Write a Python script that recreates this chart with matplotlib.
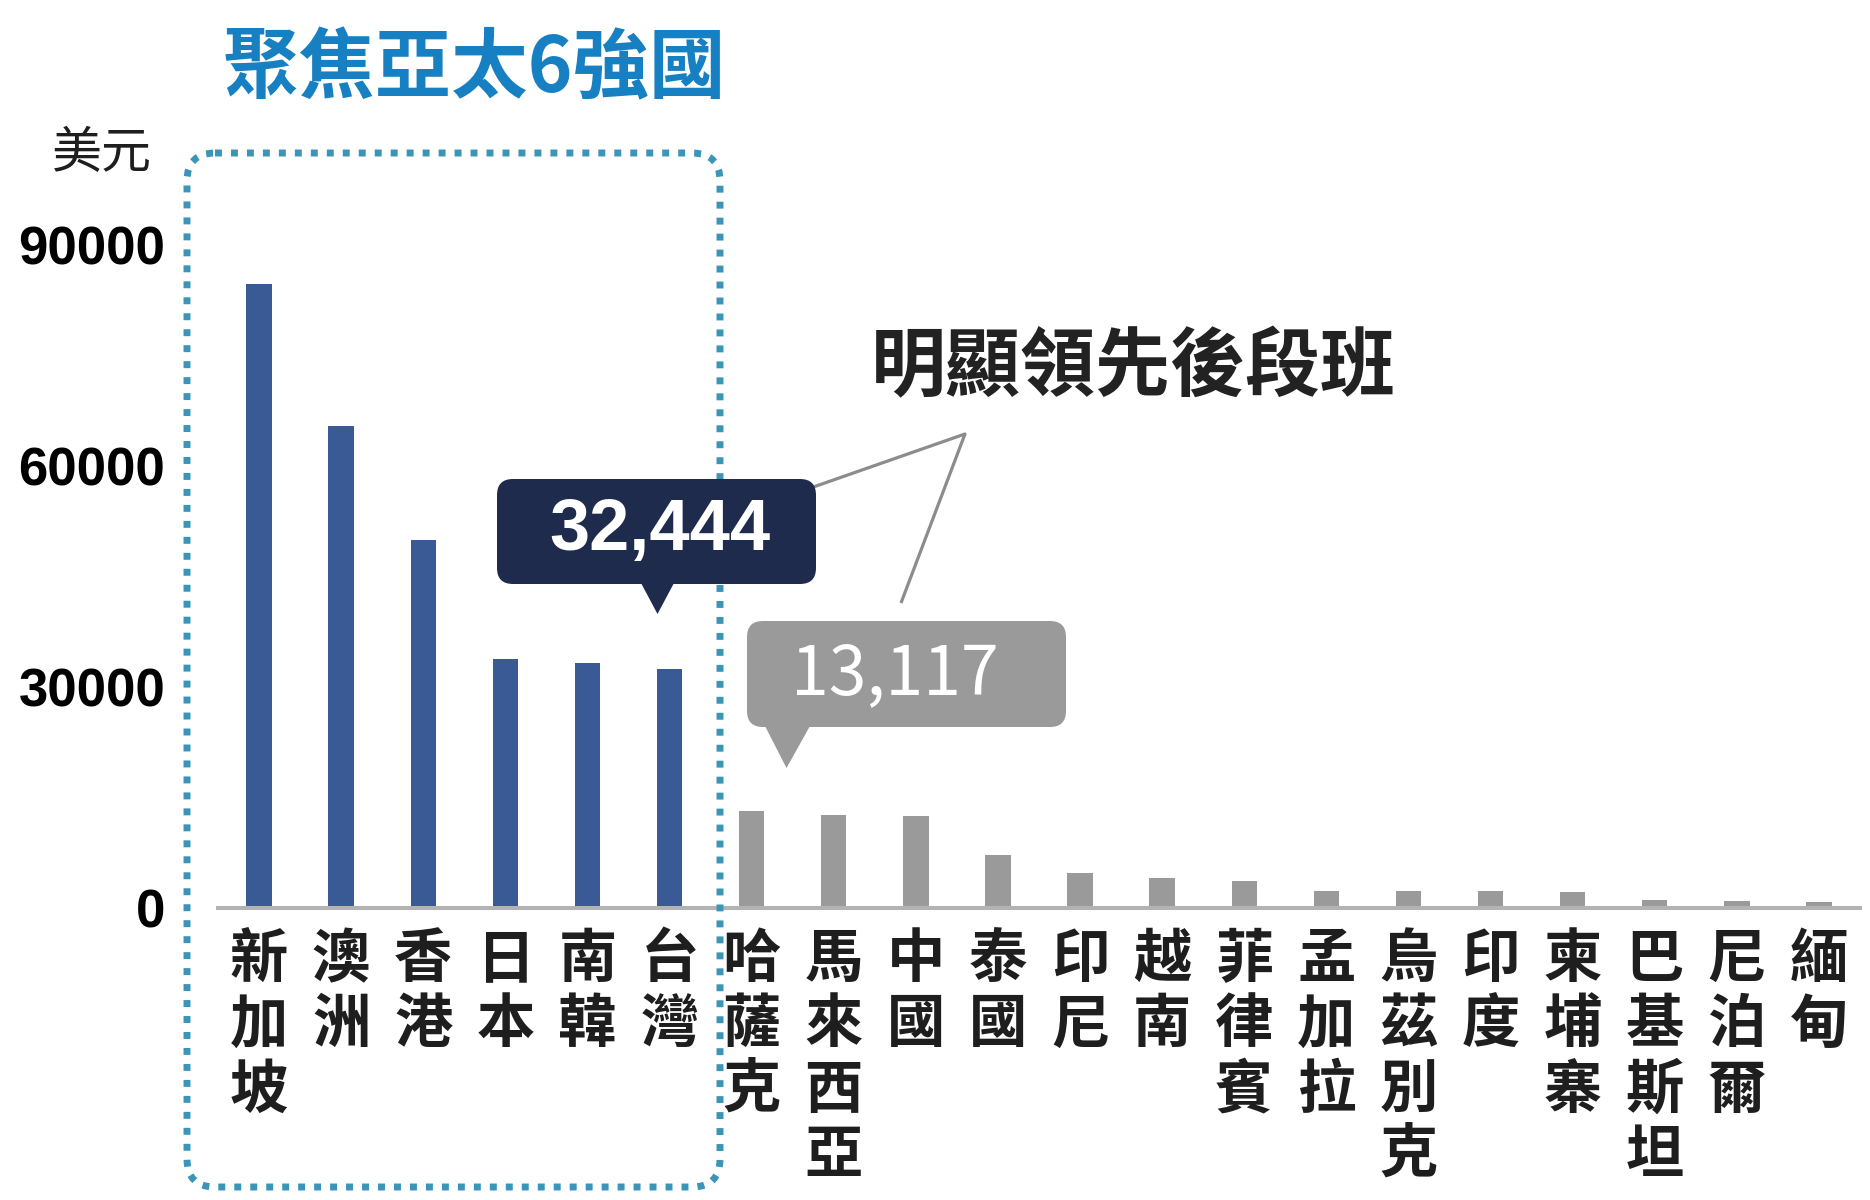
import matplotlib
matplotlib.use("Agg")
import matplotlib.pyplot as plt
from matplotlib.patches import FancyBboxPatch, Polygon

# ---------------- data ----------------
countries = ["新加坡", "澳洲", "香港", "日本", "南韓", "台灣",
             "哈薩克", "馬來西亞", "中國", "泰國", "印尼", "越南", "菲律賓",
             "孟加拉", "烏茲別克", "印度", "柬埔寨", "巴基斯坦", "尼泊爾", "緬甸"]
gdp_per_capita = [84700, 65400, 50000, 33750, 33200, 32444,
                  13117, 12600, 12500, 7150, 4750, 4100, 3650,
                  2350, 2250, 2250, 2200, 1150, 1000, 850]
top6_count = 6
yticks = [0, 30000, 60000, 90000]
ytick_labels = ["0", "30000", "60000", "90000"]
title = "聚焦亞太6強國"
unit_label = "美元"
note_text = "明顯領先後段班"
taiwan_label = "32,444"
kazakh_label = "13,117"

# ---------------- style ----------------
W, H = 1870, 1200
CJK = ["Noto Sans CJK TC", "DejaVu Sans"]
NUM = ["Liberation Sans", "DejaVu Sans"]
BLUE = "#3a5a95"
GRAY = "#9a9a9a"
DARK = "#1f2b4d"
TITLE_C = "#1680c2"
DOT_C = "#3b95b9"
TXT = "#1e1e1e"

fig = plt.figure(figsize=(W / 100, H / 100), dpi=100)
fig.patch.set_facecolor("white")

def fx(px):
    return px / W

def fy(py):
    return 1 - py / H

ax_left, ax_right, ax_zero, ax_top = 218, 1860, 908, 245
ax = fig.add_axes([fx(ax_left), fy(ax_zero), (ax_right - ax_left) / W, (ax_zero - ax_top) / H])
ax.set_facecolor("none")

x = list(range(len(countries)))
colors = [BLUE if i < top6_count else GRAY for i in x]
ax.bar(x, gdp_per_capita, width=0.31, color=colors, zorder=2)
ax.axhline(0, color="#b3b3b3", lw=2.9, zorder=3, clip_on=False)

ax.set_xlim(-0.5, len(countries) - 0.5)
ax.set_ylim(0, 90000)
for s in ax.spines.values():
    s.set_visible(False)

ax.set_yticks(yticks)
ax.set_yticklabels(ytick_labels, fontfamily=NUM, fontweight="bold", fontsize=38, color="black")
ax.tick_params(axis="y", length=0, pad=38)

ax.set_xticks(x)
ax.set_xticklabels(["\n".join(c) for c in countries], fontfamily=CJK, fontsize=42,
                   fontweight="semibold", color=TXT, linespacing=1.11, va="top")
ax.tick_params(axis="x", length=0, pad=16)

# ---------------- overlay (pixel coordinates) ----------------
ov = fig.add_axes([0, 0, 1, 1], zorder=5)
ov.set_xlim(0, W)
ov.set_ylim(H, 0)
ov.axis("off")
ov.patch.set_visible(False)

# dotted rounded frame around top 6
frame = FancyBboxPatch((187, 153), 720 - 187, 1187 - 153,
                       boxstyle="round,pad=0,rounding_size=28",
                       fill=False, edgecolor=DOT_C, lw=5, linestyle=(0, (1, 1.3)), zorder=1)
ov.add_patch(frame)

# leader lines
ov.plot([799, 965, 901], [492, 434, 603], color="#8c8c8c", lw=2.3, zorder=2,
        solid_capstyle="butt")

# dark callout (Taiwan)
ov.add_patch(FancyBboxPatch((497, 479), 816 - 497, 584 - 479,
                            boxstyle="round,pad=0,rounding_size=16",
                            facecolor=DARK, edgecolor="none", zorder=3))
ov.add_patch(Polygon([[641, 583], [674, 583], [657.5, 614]], closed=True,
                     facecolor=DARK, edgecolor="none", zorder=3))
ov.text(660, 531, taiwan_label, fontfamily=NUM, fontweight="bold", fontsize=52,
        color="white", ha="center", va="center", zorder=4)

# gray callout (Kazakhstan)
ov.add_patch(FancyBboxPatch((747, 621), 1066 - 747, 727 - 621,
                            boxstyle="round,pad=0,rounding_size=16",
                            facecolor=GRAY, edgecolor="none", zorder=3))
ov.add_patch(Polygon([[765, 726], [810, 726], [786.5, 768]], closed=True,
                     facecolor=GRAY, edgecolor="none", zorder=3))
ov.text(895, 675, kazakh_label, fontfamily=CJK, fontsize=49,
        color="white", ha="center", va="center", zorder=4)

# texts
ov.text(223, 70, title, fontfamily=CJK, fontweight="heavy", fontsize=55,
        color=TITLE_C, ha="left", va="center")
ov.text(102, 154, unit_label, fontfamily=CJK, fontsize=36, color=TXT,
        ha="center", va="center")
ov.text(871, 368, note_text, fontfamily=CJK, fontweight="bold", fontsize=54,
        color="#222222", ha="left", va="center")

fig.savefig("out.png", dpi=100, facecolor="white")
